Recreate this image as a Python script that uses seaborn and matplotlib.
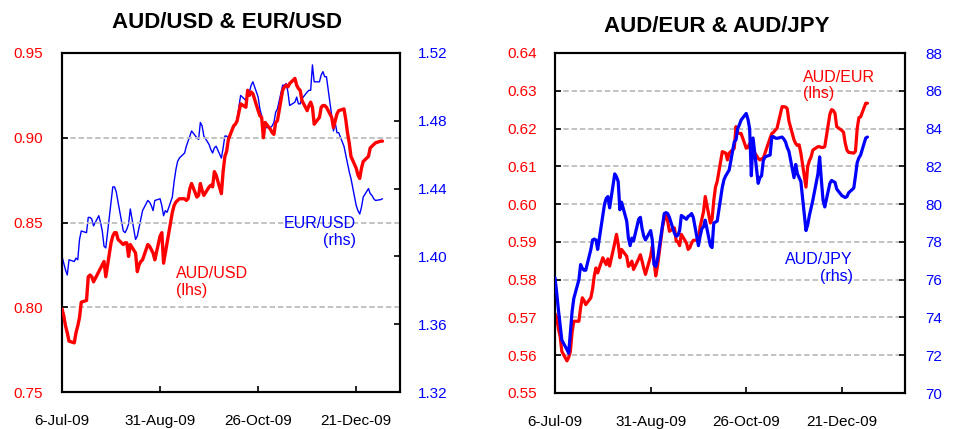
import matplotlib
matplotlib.use("Agg")
import matplotlib.pyplot as plt
import seaborn as sns
import pandas as pd

sns.set_theme(style="white")
plt.rcParams["font.family"] = ["Liberation Sans", "DejaVu Sans"]
plt.rcParams.update({
    "text.color": "black",
    "xtick.color": "black",
    "ytick.color": "black",
    "axes.edgecolor": "black",
    "axes.labelcolor": "black",
})

# ---------------- data ----------------
dates = pd.bdate_range("2009-07-06", "2010-01-05")  # business days

tick_dates = ["2009-07-06", "2009-08-31", "2009-10-26", "2009-12-21"]
tick_labels = ["6-Jul-09", "31-Aug-09", "26-Oct-09", "21-Dec-09"]

aud_usd = [
    0.799, 0.795, 0.789, 0.785, 0.780,
    0.779, 0.785, 0.789, 0.794, 0.803,
    0.804, 0.818, 0.819, 0.818, 0.815,
    0.821, 0.823, 0.825, 0.827, 0.818,
    0.838, 0.842, 0.844, 0.844, 0.840,
    0.837, 0.838, 0.838, 0.830, 0.837,
    0.832, 0.821, 0.825, 0.827, 0.828,
    0.837, 0.836, 0.834, 0.832, 0.828,
    0.842, 0.844, 0.826, 0.832, 0.838,
    0.856, 0.860, 0.862, 0.863, 0.864,
    0.864, 0.863, 0.864, 0.870, 0.873,
    0.865, 0.866, 0.873, 0.869, 0.866,
    0.871, 0.872, 0.871, 0.880, 0.878,
    0.867, 0.880, 0.889, 0.892, 0.899,
    0.907, 0.908, 0.910, 0.915, 0.920,
    0.918, 0.928, 0.925, 0.927, 0.926,
    0.916, 0.913, 0.912, 0.900, 0.909,
    0.905, 0.903, 0.902, 0.909, 0.910,
    0.928, 0.930, 0.931, 0.930, 0.932,
    0.935, 0.931, 0.929, 0.928, 0.922,
    0.916, 0.919, 0.921, 0.918, 0.908,
    0.912, 0.918, 0.919, 0.919, 0.918,
    0.912, 0.906, 0.910, 0.914, 0.916,
    0.917, 0.911, 0.903, 0.897, 0.889,
    0.882, 0.878, 0.876, 0.882, 0.886,
    0.889, 0.894, 0.895, 0.896, 0.897,
    0.898, 0.898,
]

eur_usd = [
    1.400, 1.396, 1.392, 1.389, 1.398,
    1.397, 1.399, 1.398, 1.410, 1.415,
    1.414, 1.423, 1.423, 1.422, 1.418,
    1.424, 1.420, 1.415, 1.406, 1.405,
    1.432, 1.441, 1.441, 1.438, 1.432,
    1.415, 1.414, 1.416, 1.419, 1.428,
    1.410, 1.412, 1.417, 1.422, 1.427,
    1.433, 1.432, 1.430, 1.427, 1.433,
    1.434, 1.430, 1.424, 1.427, 1.426,
    1.435, 1.444, 1.451, 1.456, 1.458,
    1.461, 1.465, 1.468, 1.471, 1.474,
    1.470, 1.469, 1.479, 1.477, 1.471,
    1.466, 1.463, 1.461, 1.464, 1.465,
    1.458, 1.464, 1.471, 1.471, 1.470,
    1.476, 1.478, 1.481, 1.488, 1.495,
    1.492, 1.496, 1.497, 1.501, 1.503,
    1.494, 1.487, 1.483, 1.473, 1.476,
    1.476, 1.477, 1.479, 1.485, 1.487,
    1.501, 1.501, 1.502, 1.497, 1.489,
    1.491, 1.494, 1.490, 1.490, 1.493,
    1.497, 1.498, 1.498, 1.513, 1.503,
    1.503, 1.507, 1.509, 1.506, 1.506,
    1.483, 1.474, 1.479, 1.473, 1.473,
    1.465, 1.460, 1.455, 1.450, 1.446,
    1.430, 1.427, 1.425, 1.429, 1.435,
    1.440, 1.437, 1.436, 1.434, 1.433,
    1.4335, 1.434,
]

aud_eur = [
    0.5710, 0.5700, 0.5670, 0.5650, 0.5610,
    0.5585, 0.5594, 0.5610, 0.5660, 0.5690,
    0.5690, 0.5726, 0.5752, 0.5745, 0.5734,
    0.5752, 0.5775, 0.5810, 0.5831, 0.5818,
    0.5858, 0.5848, 0.5840, 0.5855, 0.5836,
    0.5897, 0.5920, 0.5895, 0.5858, 0.5880,
    0.5862, 0.5835, 0.5840, 0.5849, 0.5827,
    0.5855, 0.5866, 0.5849, 0.5830, 0.5814,
    0.5862, 0.5888, 0.5850, 0.5810, 0.5835,
    0.5940, 0.5960, 0.5970, 0.5955, 0.5928,
    0.5937, 0.5902, 0.5900, 0.5890, 0.5920,
    0.5897, 0.5880, 0.5885, 0.5897, 0.5904,
    0.5905, 0.5940, 0.5960, 0.5980, 0.6020,
    0.5950, 0.5960, 0.6010, 0.6045, 0.6060,
    0.6139, 0.6137, 0.6135, 0.6117, 0.6135,
    0.6148, 0.6205, 0.6190, 0.6187, 0.6187,
    0.6148, 0.6150, 0.6160, 0.6165, 0.6143,
    0.6121, 0.6117, 0.6120, 0.6121, 0.6135,
    0.6175, 0.6187, 0.6190, 0.6196, 0.6200,
    0.6258, 0.6258, 0.6257, 0.6253, 0.6220,
    0.6170, 0.6160, 0.6155, 0.6157, 0.6135,
    0.6045, 0.6100, 0.6115, 0.6125, 0.6143,
    0.6152, 0.6152, 0.6150, 0.6150, 0.6152,
    0.6238, 0.6250, 0.6248, 0.6240, 0.6205,
    0.6195, 0.6190, 0.6161, 0.6143, 0.6137,
    0.6135, 0.6140, 0.6200, 0.6229, 0.6231,
    0.6267, 0.6267,
]

aud_jpy = [
    76.1, 75.3, 74.4, 73.6, 72.8,
    72.3, 72.1, 73.2, 74.3, 75.0,
    76.0, 76.8, 76.6, 76.5, 76.5,
    77.6, 78.1, 78.15, 78.1, 77.6,
    79.4, 80.0, 80.3, 80.4, 79.8,
    81.6, 81.45, 81.2, 79.7, 80.1,
    79.1, 78.2, 77.8, 78.2, 78.05,
    79.2, 79.3, 78.7, 78.3, 78.1,
    78.6, 78.1, 76.8, 76.7, 77.05,
    78.9, 79.5, 79.55, 79.5, 79.3,
    78.45, 78.3, 78.35, 78.6, 79.4,
    79.2, 79.35, 79.4, 79.5, 79.3,
    77.8, 78.3, 78.7, 78.8, 79.15,
    77.8, 77.7, 79.0, 79.05, 79.1,
    80.9, 81.3, 81.5, 81.65, 81.8,
    83.3, 83.4, 84.0, 84.2, 84.45,
    84.8, 84.5, 84.0, 81.5, 83.5,
    81.1, 81.4, 81.5, 82.3, 82.5,
    82.6, 83.57, 83.57, 83.5, 83.48,
    83.55, 83.45, 83.3, 83.0, 82.8,
    81.4, 82.1, 81.6, 81.4, 81.2,
    78.6, 78.9, 79.4, 79.8, 80.2,
    81.6, 82.5, 81.3, 80.2, 79.85,
    81.1, 81.25, 81.2, 81.15, 80.8,
    80.45, 80.4, 80.35, 80.4, 80.6,
    80.85, 81.5, 82.2, 82.45, 82.6,
    83.5, 83.55,
]

left_lhs_ticks = [0.75, 0.80, 0.85, 0.90, 0.95]
left_rhs_ticks = [1.32, 1.36, 1.40, 1.44, 1.48, 1.52]
right_lhs_ticks = [0.55, 0.56, 0.57, 0.58, 0.59, 0.60, 0.61, 0.62, 0.63, 0.64]
right_rhs_ticks = [70, 72, 74, 76, 78, 80, 82, 84, 86, 88]

# ---------------- drawing ----------------
RED = "#ff0000"
BLUE = "#0000ff"
W, H = 954, 429

fig = plt.figure(figsize=(W / 100, H / 100), dpi=100)
fig.patch.set_facecolor("white")


def add_px_axes(x0, y0, x1, y1):
    return fig.add_axes([x0 / W, 1 - y1 / H, (x1 - x0) / W, (y1 - y0) / H])


def build_panel(box, xend, lhs, rhs, lhs_ticks, rhs_ticks, lhs_fmt, rhs_fmt,
                lhs_lw, rhs_lw, lhs_on_top, pads):
    ax = add_px_axes(*box)
    ax2 = ax.twinx()
    sns.lineplot(x=dates, y=lhs, ax=ax, color=RED, linewidth=lhs_lw, zorder=3)
    sns.lineplot(x=dates, y=rhs, ax=ax2, color=BLUE, linewidth=rhs_lw, zorder=3)

    ax.set_xlim(pd.Timestamp("2009-07-06"), pd.Timestamp(xend))
    ax.set_ylim(lhs_ticks[0], lhs_ticks[-1])
    ax2.set_ylim(rhs_ticks[0], rhs_ticks[-1])

    ax.set_xticks(pd.to_datetime(tick_dates))
    ax.set_xticklabels(tick_labels)
    ax.set_yticks(lhs_ticks)
    ax.set_yticklabels([lhs_fmt.format(v) for v in lhs_ticks])
    ax2.set_yticks(rhs_ticks)
    ax2.set_yticklabels([rhs_fmt.format(v) for v in rhs_ticks])

    ax.set_xlabel("")
    ax.set_ylabel("")
    ax2.set_ylabel("")

    ax.yaxis.grid(True, linestyle=(0, (3, 1.6)), color="#bdbdbd", linewidth=1.3)
    ax.xaxis.grid(False)
    ax2.grid(False)
    ax.set_axisbelow(True)

    ax.tick_params(axis="x", direction="in", length=4, width=1.2, pad=pads[0],
                   labelsize=11, colors="black", labelcolor="black",
                   bottom=True, top=False)
    ax.tick_params(axis="y", direction="in", length=4, width=1.2, pad=pads[1],
                   labelsize=11, labelcolor=RED, color="black", left=True, right=False)
    ax2.tick_params(axis="y", direction="in", length=4, width=1.2, pad=pads[2],
                    labelsize=11, labelcolor=BLUE, color="black", right=True, left=False)

    for a in (ax, ax2):
        for s in a.spines.values():
            s.set_visible(True)
            s.set_color("black")
            s.set_linewidth(1.5)

    if lhs_on_top:
        ax.set_zorder(ax2.get_zorder() + 1)
        ax.patch.set_visible(False)
    return ax, ax2


build_panel((62, 53, 400, 392), "2010-01-15", aud_usd, eur_usd,
            left_lhs_ticks, left_rhs_ticks, "{:.2f}", "{:.2f}",
            2.4, 1.0, True, (15.5, 13.7, 13))
build_panel((555, 53, 905, 393), "2010-01-27", aud_eur, aud_jpy,
            right_lhs_ticks, right_rhs_ticks, "{:.2f}", "{:d}",
            2.3, 2.3, False, (15.5, 13.2, 14.4))


def ftext(x, y, s, **kw):
    fig.text(x / W, 1 - y / H, s, va="baseline", **kw)


ftext(227, 28.3, "AUD/USD & EUR/USD", ha="center", fontsize=16,
      fontweight="bold", color="black")
ftext(717, 31.5, "AUD/EUR & AUD/JPY", ha="center", fontsize=16,
      fontweight="bold", color="black")

ftext(175.7, 278.3, "AUD/USD", ha="left", fontsize=11.5, color=RED)
ftext(175.7, 295.0, "(lhs)", ha="left", fontsize=11.5, color=RED)
ftext(283.3, 228.3, "EUR/USD", ha="left", fontsize=11.5, color=BLUE)
ftext(356.0, 245.0, "(rhs)", ha="right", fontsize=11.5, color=BLUE)

ftext(802.7, 81.7, "AUD/EUR", ha="left", fontsize=11.5, color=RED)
ftext(802.7, 98.3, "(lhs)", ha="left", fontsize=11.5, color=RED)
ftext(785.0, 264.0, "AUD/JPY", ha="left", fontsize=11.5, color=BLUE)
ftext(853.0, 280.7, "(rhs)", ha="right", fontsize=11.5, color=BLUE)

fig.savefig("out.png", dpi=100, facecolor="white")
